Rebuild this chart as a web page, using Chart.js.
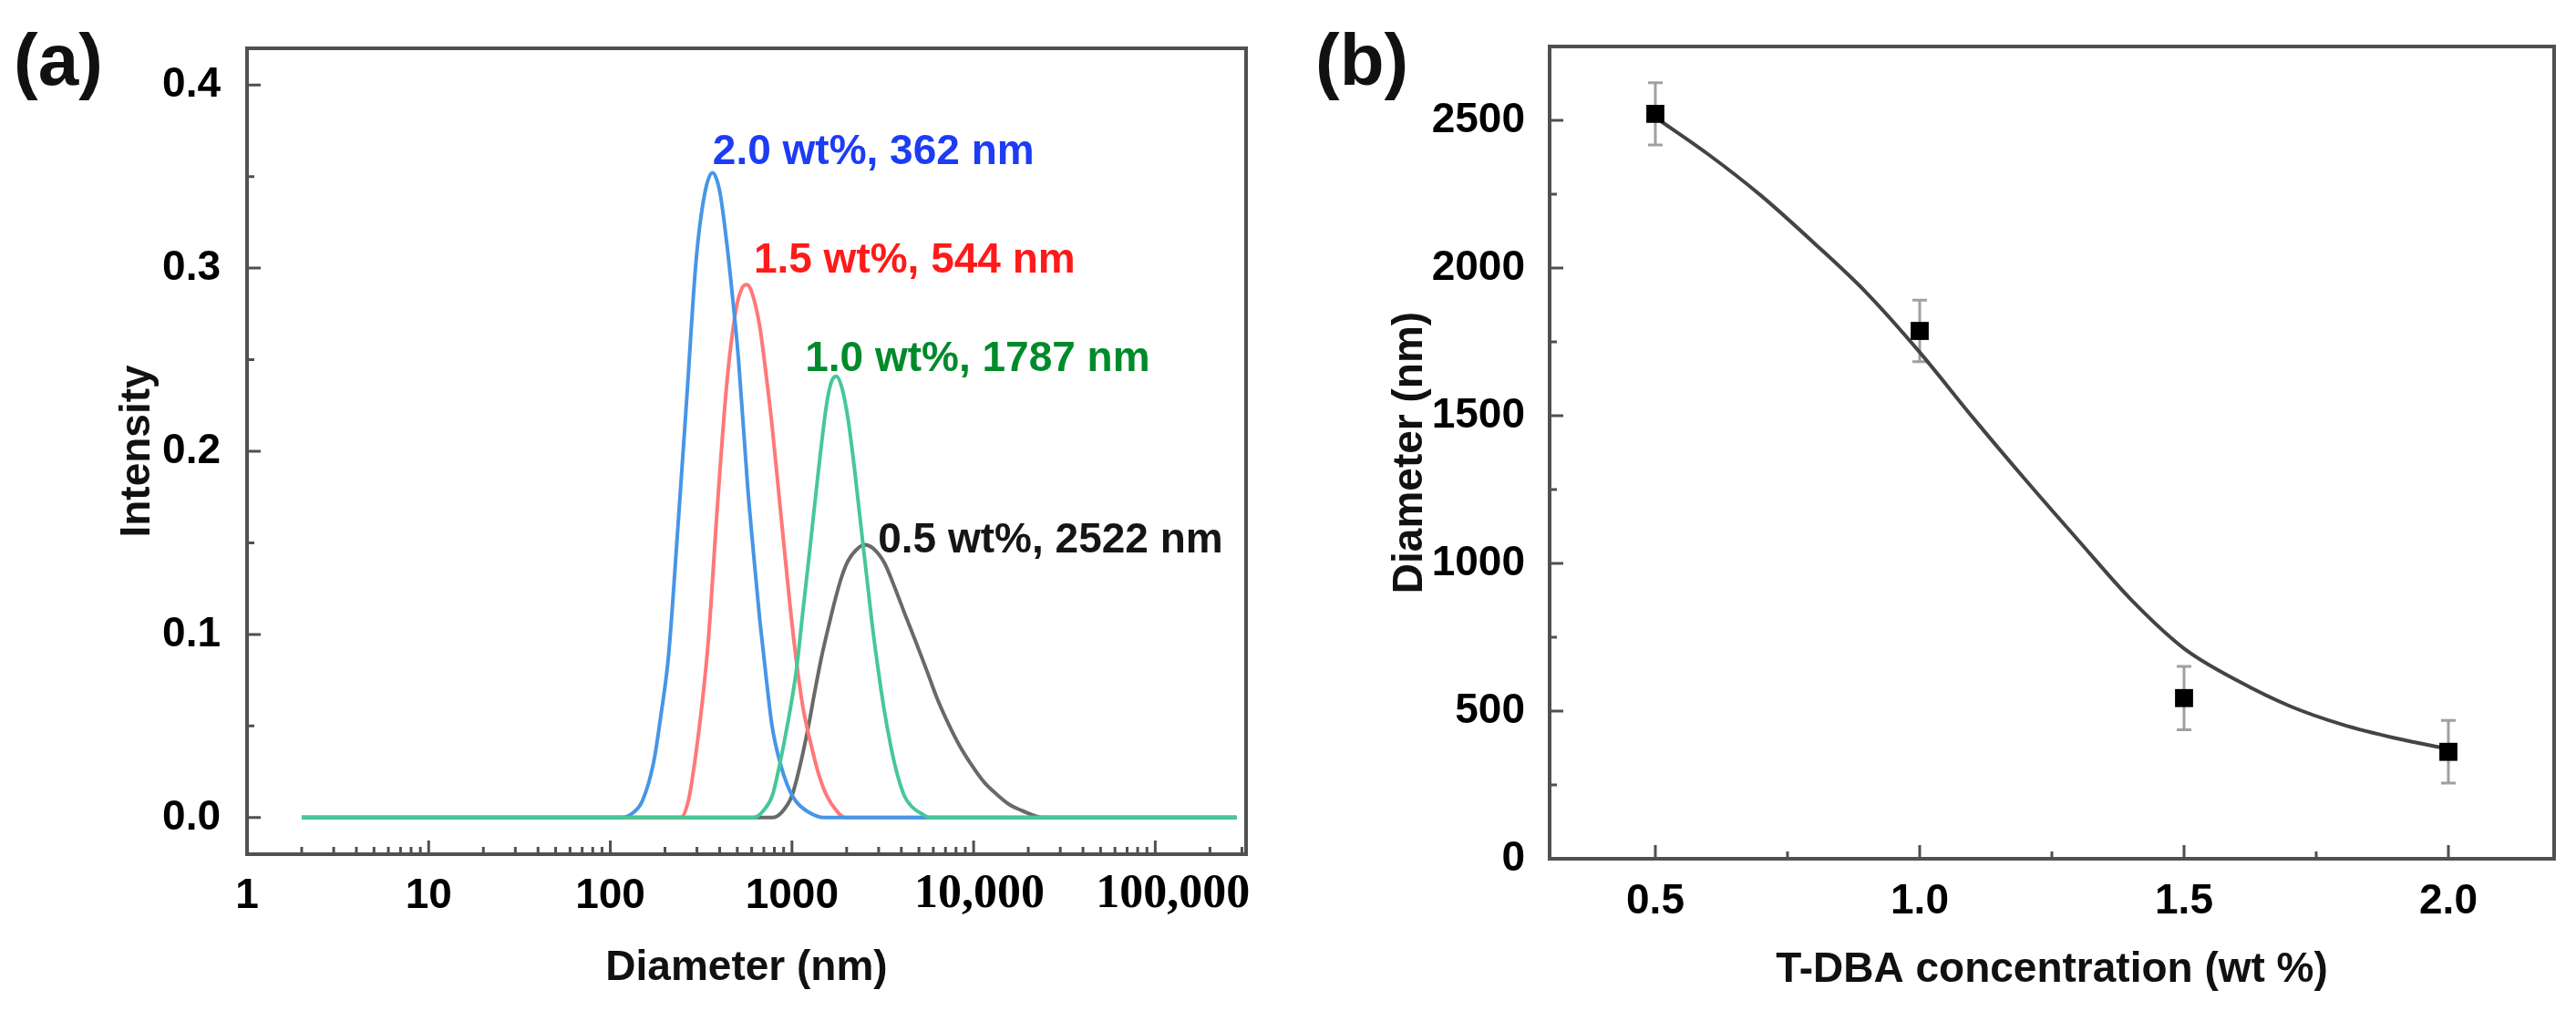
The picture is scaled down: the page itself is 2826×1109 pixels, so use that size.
<!DOCTYPE html>
<html>
<head>
<meta charset="utf-8">
<script src="https://cdn.jsdelivr.net/npm/chart.js@4.4.0/dist/chart.umd.min.js"></script>
<style>
  body { margin: 0; background: #fff; }
  #wrap { position: relative; width: 2826px; height: 1109px; }
  canvas { position: absolute; top: 0; }
  #chartA { left: 0; }
  #chartB { left: 1413px; }
</style>
</head>
<body>
<div id="wrap">
  <canvas id="chartA" width="1413" height="1109"></canvas>
  <canvas id="chartB" width="1413" height="1109"></canvas>
</div>
<script>
// ---------- panel (a): size distributions (diameter in nm, intensity) ----------
const blueD  = [2, 115, 135, 150, 173, 190, 209, 235, 264, 296, 330, 365, 400, 436, 470, 508, 570, 620, 665, 720, 777, 860, 941, 1050, 1233, 1500, 280000];
const blueI  = [0, 0, 0.003, 0.009, 0.030, 0.056, 0.088, 0.157, 0.230, 0.303, 0.340, 0.352, 0.342, 0.315, 0.285, 0.250, 0.181, 0.140, 0.108, 0.077, 0.050, 0.030, 0.018, 0.009, 0.003, 0, 0];

const redD   = [2, 244, 270, 296, 320, 346, 388, 436, 489, 530, 564, 600, 665, 720, 777, 860, 905, 980, 1056, 1150, 1280, 1400, 1553, 1750, 1958, 280000];
const redI   = [0, 0, 0.010, 0.035, 0.062, 0.096, 0.169, 0.235, 0.276, 0.289, 0.291, 0.287, 0.268, 0.242, 0.214, 0.170, 0.148, 0.114, 0.086, 0.060, 0.039, 0.024, 0.012, 0.004, 0, 0];

const greenD = [2, 616, 700, 780, 860, 950, 1056, 1150, 1250, 1383, 1553, 1650, 1755, 1880, 2033, 2200, 2373, 2570, 2768, 3000, 3229, 3500, 3767, 4150, 4565, 5200, 5750, 280000];
const greenI = [0, 0, 0.004, 0.012, 0.030, 0.052, 0.080, 0.113, 0.145, 0.185, 0.226, 0.238, 0.241, 0.235, 0.218, 0.192, 0.163, 0.133, 0.105, 0.079, 0.058, 0.039, 0.025, 0.012, 0.006, 0.002, 0, 0];

const blackD = [2, 780, 880, 1000, 1100, 1233, 1331, 1450, 1614, 1750, 1886, 2033, 2250, 2512, 2800, 3229, 3700, 4226, 4850, 5536, 6300, 7244, 8400, 9862, 11500, 13400, 15800, 18250, 21000, 23900, 280000];
const blackI = [0, 0, 0.003, 0.012, 0.027, 0.050, 0.068, 0.087, 0.107, 0.121, 0.132, 0.140, 0.146, 0.149, 0.147, 0.139, 0.125, 0.110, 0.095, 0.080, 0.065, 0.0515, 0.039, 0.028, 0.019, 0.0127, 0.007, 0.004, 0.0015, 0, 0];

const peakLabels = ['2.0 wt%, 362 nm', '1.5 wt%, 544 nm', '1.0 wt%, 1787 nm', '0.5 wt%, 2522 nm'];

const xTicksA = [1, 10, 100, 1000, 10000, 100000];
const xTickLabelsA = ['1', '10', '100', '1000', ' 10,000', '   100,000'];
const yTicksA = [0, 0.1, 0.2, 0.3, 0.4];

// ---------- panel (b): diameter vs T-DBA concentration ----------
const concPts = [0.5, 1.0, 1.5, 2.0];
const diamPts = [2522, 1787, 544, 362];
const diamErr = [105, 104, 107, 106];

const fitConc = [0.5, 0.6, 0.7, 0.8, 0.9, 1.0, 1.1, 1.2, 1.3, 1.4, 1.5, 1.6, 1.7, 1.8, 1.9, 2.0];
const fitDiam = [2510, 2385, 2245, 2085, 1915, 1715, 1495, 1283, 1078, 877, 712, 604, 517, 454, 408, 372];

const xTicksB = [0.5, 1.0, 1.5, 2.0];
const yTicksB = [0, 500, 1000, 1500, 2000, 2500];

// ---------- shared bits ----------
const SANS = '"Liberation Sans", Arial, sans-serif';
const SERIF = '"Liberation Serif", "Times New Roman", serif';
const FRAME = '#505050';
const axisFont = { family: SANS, size: 46, weight: 'bold' };

const zip = (xs, ys) => xs.map((x, i) => ({ x, y: ys[i] }));

function drawInnerTicks(ctx, chart, xMajor, xMinor, yMajor, yMinor) {
  const { chartArea: a, scales: { x, y } } = chart;
  ctx.strokeStyle = FRAME;
  ctx.lineWidth = 3;
  ctx.beginPath();
  xMajor.forEach(v => { const px = x.getPixelForValue(v); ctx.moveTo(px, a.bottom); ctx.lineTo(px, a.bottom - 15); });
  xMinor.forEach(v => { const px = x.getPixelForValue(v); ctx.moveTo(px, a.bottom); ctx.lineTo(px, a.bottom - 8); });
  yMajor.forEach(v => { const py = y.getPixelForValue(v); ctx.moveTo(a.left, py); ctx.lineTo(a.left + 15, py); });
  yMinor.forEach(v => { const py = y.getPixelForValue(v); ctx.moveTo(a.left, py); ctx.lineTo(a.left + 8, py); });
  ctx.stroke();
}

function drawFrame(ctx, a) {
  ctx.strokeStyle = FRAME;
  ctx.lineWidth = 4;
  ctx.strokeRect(a.left, a.top, a.right - a.left, a.bottom - a.top);
}

function drawLetter(ctx, text, x) {
  ctx.fillStyle = '#111';
  ctx.font = 'bold 80px ' + SANS;
  ctx.textBaseline = 'middle';
  ctx.textAlign = 'left';
  ctx.fillText(text, x, 71);
}

// minor ticks on the log axis: 2..9 in every decade
const xMinorA = [];
for (let e = 0; e <= 5; e++) {
  for (let m = 2; m <= 9; m++) {
    const v = m * Math.pow(10, e);
    if (v < 316000) xMinorA.push(v);
  }
}

// label anchors: left edge of text (nm), vertical centre (intensity)
const labelAnchors = [
  { d: 366, i: 0.363, color: '#1d3cf5' },
  { d: 616, i: 0.304, color: '#ff1a1a' },
  { d: 1181, i: 0.250, color: '#008a2a' },
  { d: 2978, i: 0.151, color: '#151515' }
];

const panelA = {
  id: 'panelA',
  afterDatasetsDraw(chart) {
    const { ctx, scales: { x, y } } = chart;
    ctx.save();
    ctx.font = 'bold 46px ' + SANS;
    ctx.textBaseline = 'middle';
    ctx.textAlign = 'left';
    peakLabels.forEach((t, k) => {
      const an = labelAnchors[k];
      ctx.fillStyle = an.color;
      ctx.fillText(t, x.getPixelForValue(an.d), y.getPixelForValue(an.i));
    });
    ctx.restore();
  },
  afterDraw(chart) {
    const { ctx, chartArea } = chart;
    ctx.save();
    drawInnerTicks(ctx, chart, xTicksA, xMinorA, yTicksA, [0.05, 0.15, 0.25, 0.35]);
    drawFrame(ctx, chartArea);
    drawLetter(ctx, '(a)', 15);
    ctx.restore();
  }
};

const panelB = {
  id: 'panelB',
  beforeDatasetsDraw(chart) {
    const { ctx, scales: { x, y } } = chart;
    ctx.save();
    ctx.strokeStyle = '#a0a0a0';
    ctx.lineWidth = 3;
    ctx.beginPath();
    concPts.forEach((c, k) => {
      const px = x.getPixelForValue(c);
      const top = y.getPixelForValue(diamPts[k] + diamErr[k]);
      const bot = y.getPixelForValue(diamPts[k] - diamErr[k]);
      ctx.moveTo(px, top); ctx.lineTo(px, bot);
      ctx.moveTo(px - 8, top); ctx.lineTo(px + 8, top);
      ctx.moveTo(px - 8, bot); ctx.lineTo(px + 8, bot);
    });
    ctx.stroke();
    ctx.restore();
  },
  afterDraw(chart) {
    const { ctx, chartArea } = chart;
    ctx.save();
    drawInnerTicks(ctx, chart, xTicksB, [0.75, 1.25, 1.75], yTicksB, [250, 750, 1250, 1750, 2250]);
    drawFrame(ctx, chartArea);
    drawLetter(ctx, '(b)', 30);
    ctx.restore();
  }
};

const lineDs = (label, xs, ys, color) => ({
  label, data: zip(xs, ys), borderColor: color, borderWidth: 4,
  pointRadius: 0, fill: false, cubicInterpolationMode: 'monotone'
});

new Chart(document.getElementById('chartA'), {
  type: 'line',
  data: {
    datasets: [
      lineDs('1.0 wt%', greenD, greenI, 'rgb(70,200,150)'),
      lineDs('2.0 wt%', blueD, blueI, 'rgb(70,150,230)'),
      lineDs('1.5 wt%', redD, redI, 'rgb(255,120,120)'),
      lineDs('0.5 wt%', blackD, blackI, 'rgb(105,105,105)')
    ]
  },
  options: {
    responsive: false,
    animation: false,
    devicePixelRatio: 1,
    layout: { padding: { top: 53, right: 46, left: 0, bottom: 0 } },
    plugins: { legend: { display: false }, tooltip: { enabled: false } },
    scales: {
      x: {
        type: 'logarithmic',
        min: 1,
        max: 316228,
        afterFit: s => { s.height = 172; },
        afterBuildTicks: s => { s.ticks = xTicksA.map(v => ({ value: v })); },
        grid: { display: false },
        border: { display: false },
        ticks: {
          autoSkip: false,
          maxRotation: 0,
          padding: 11,
          color: '#000',
          font: c => (c.tick && c.tick.value >= 10000)
            ? { family: SERIF, size: 52, weight: 'bold', lineHeight: 1.0 }
            : axisFont,
          callback: (v, i) => xTickLabelsA[i]
        },
        title: { display: true, text: 'Diameter (nm)', color: '#111', font: axisFont, padding: { top: 0, bottom: 19 } }
      },
      y: {
        min: -0.02,
        max: 0.42,
        afterFit: s => { s.width = 271; },
        afterBuildTicks: s => { s.ticks = yTicksA.map(v => ({ value: v })); },
        grid: { display: false },
        border: { display: false },
        ticks: { padding: 21, color: '#000', font: axisFont, callback: v => v.toFixed(1) },
        title: { display: true, text: 'Intensity', color: '#111', font: axisFont, padding: { top: 124, bottom: 0 } }
      }
    }
  },
  plugins: [panelA]
});

new Chart(document.getElementById('chartB'), {
  type: 'line',
  data: {
    datasets: [
      {
        label: 'measured', data: zip(concPts, diamPts), showLine: false,
        pointStyle: 'rect', pointRadius: 14, pointBackgroundColor: '#000', pointBorderWidth: 0
      },
      {
        label: 'fit', data: zip(fitConc, fitDiam), borderColor: '#444', borderWidth: 4,
        pointRadius: 0, fill: false, cubicInterpolationMode: 'monotone'
      }
    ]
  },
  options: {
    responsive: false,
    animation: false,
    devicePixelRatio: 1,
    layout: { padding: { top: 51, right: 24, left: 0, bottom: 0 } },
    plugins: { legend: { display: false }, tooltip: { enabled: false } },
    scales: {
      x: {
        type: 'linear',
        min: 0.3,
        max: 2.2,
        afterFit: s => { s.height = 167; },
        afterBuildTicks: s => { s.ticks = xTicksB.map(v => ({ value: v })); },
        grid: { display: false },
        border: { display: false },
        ticks: { maxRotation: 0, padding: 12, color: '#000', font: axisFont, callback: v => v.toFixed(1) },
        title: { display: true, text: 'T-DBA concentration (wt %)', color: '#111', font: axisFont, padding: { top: 0, bottom: 17 } }
      },
      y: {
        min: 0,
        max: 2750,
        afterFit: s => { s.width = 287; },
        afterBuildTicks: s => { s.ticks = yTicksB.map(v => ({ value: v })); },
        grid: { display: false },
        border: { display: false },
        ticks: { padding: 19, color: '#000', font: axisFont, callback: v => String(v) },
        title: { display: true, text: 'Diameter (nm)', color: '#111', font: axisFont, padding: { top: 107, bottom: 0 } }
      }
    }
  },
  plugins: [panelB]
});
</script>
</body>
</html>
